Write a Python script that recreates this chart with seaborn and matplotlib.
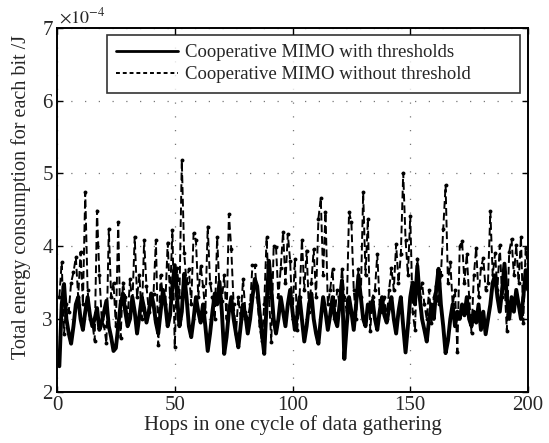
import numpy as np
import pandas as pd
import matplotlib
matplotlib.use("Agg")
import matplotlib.pyplot as plt
import seaborn as sns

# Datos (unidades de 1e-4 J)
hops = np.arange(1, 201)

with_thr = [
    2.35, 3.2, 3.48, 3.0, 2.8, 2.66, 2.9, 3.2, 3.3, 3.0,
    2.85, 3.1, 3.3, 3.05, 2.9, 3.0, 3.15, 2.85, 2.95, 3.1,
    3.25, 2.9, 2.75, 2.56, 2.6, 2.9, 3.2, 3.35, 3.1, 2.9,
    3.0, 3.3, 3.1, 2.8, 3.05, 3.3, 3.15, 2.95, 3.1, 3.35,
    3.2, 2.95, 2.8, 3.1, 3.4, 3.2, 2.9, 3.05, 3.45, 3.74,
    3.3, 2.9, 3.1, 3.62, 3.3, 2.9, 2.75, 3.0, 3.3, 3.1,
    2.95, 3.2, 2.9, 2.56, 2.8, 3.1, 3.35, 3.2, 3.51, 3.1,
    2.52, 2.75, 3.1, 3.3, 3.0, 2.8, 2.61, 2.9, 3.2, 3.05,
    2.8, 3.0, 3.3, 3.55, 3.45, 3.1, 2.8, 2.52, 3.2, 3.8,
    3.4, 3.0, 2.8, 3.0, 3.3, 3.1, 2.9, 3.2, 3.4, 3.1,
    2.85, 3.05, 3.3, 3.0, 2.69, 2.9, 3.2, 3.35, 3.0, 2.8,
    2.66, 3.0, 3.3, 3.1, 2.85, 3.05, 3.3, 3.0, 2.9, 3.2,
    3.53, 2.45, 2.9, 3.3, 3.1, 2.85, 3.2, 3.6, 3.3, 3.0,
    2.9, 3.2, 3.1, 3.25, 3.0, 2.85, 3.1, 3.3, 3.05, 2.95,
    3.15, 3.3, 3.0, 2.8, 3.1, 3.3, 2.9, 2.54, 2.9, 3.3,
    3.5, 3.2, 3.73, 3.3, 3.0, 2.85, 2.69, 3.0, 3.2, 3.0,
    3.4, 3.69, 3.2, 2.9, 2.53, 2.7, 3.0, 3.2, 2.9, 3.1,
    3.0, 3.2, 3.05, 3.3, 3.0, 2.9, 3.1, 2.95, 3.2, 2.85,
    3.1, 2.79, 3.0, 3.2, 3.5, 3.6, 3.3, 3.1, 3.4, 3.76,
    3.3, 3.0, 3.3, 3.1, 3.4, 3.2, 3.0, 3.3, 3.67, 3.4,
]

without_thr = [
    3.3, 3.78, 2.8, 3.2, 3.1, 3.5, 3.64, 3.85, 3.3, 3.92,
    3.2, 4.74, 3.4, 3.0, 2.95, 2.7, 4.49, 3.6, 3.0, 2.9,
    2.67, 4.24, 3.3, 3.5, 2.9, 4.33, 2.74, 3.5, 3.3, 3.0,
    3.55, 3.2, 4.13, 3.3, 3.6, 3.0, 4.08, 3.45, 3.1, 3.2,
    3.35, 4.08, 2.64, 3.6, 3.3, 3.2, 4.05, 3.3, 4.22, 2.61,
    3.7, 3.3, 5.18, 3.9, 3.5, 3.69, 3.2, 4.18, 4.08, 3.3,
    3.73, 3.45, 3.1, 4.27, 3.5, 3.3, 3.0, 4.12, 3.4, 3.25,
    3.6, 3.0, 4.44, 3.96, 3.2, 2.8, 3.3, 3.0, 3.55, 3.1,
    3.0, 3.2, 3.74, 3.74, 3.3, 2.9, 2.7, 3.2, 4.12, 3.3,
    2.69, 4.0, 3.99, 3.3, 3.7, 4.2, 3.5, 4.17, 3.8, 3.0,
    3.83, 2.85, 3.3, 4.09, 3.4, 3.94, 3.1, 3.5, 3.96, 3.3,
    4.38, 4.66, 3.6, 4.47, 3.2, 3.4, 3.68, 3.08, 3.4, 3.2,
    3.69, 3.3, 3.1, 4.47, 4.33, 3.4, 3.0, 3.69, 3.3, 4.74,
    3.6, 4.38, 2.84, 3.3, 3.4, 3.89, 3.2, 3.1, 3.3, 3.0,
    3.4, 3.7, 3.4, 4.03, 3.5, 3.89, 5.01, 4.09, 3.6, 4.42,
    3.1, 2.85, 3.83, 3.3, 3.5, 3.2, 3.0, 3.4, 2.95, 3.3,
    3.45, 3.2, 3.6, 4.24, 4.84, 3.5, 3.78, 3.2, 3.4, 2.55,
    4.0, 4.07, 3.5, 3.89, 3.3, 2.81, 3.6, 3.98, 3.3, 3.7,
    3.84, 3.4, 3.5, 4.48, 3.6, 3.9, 3.4, 4.01, 3.3, 3.5,
    2.84, 3.92, 4.10, 3.6, 4.01, 3.5, 4.13, 2.95, 3.98, 3.7,
]

labels = ['Cooperative MIMO with thresholds', 'Cooperative MIMO without threshold']

df = pd.DataFrame({'hop': hops, 'con': with_thr, 'sin': without_thr})

sns.set_theme(style="ticks")
plt.rcParams['font.family'] = ['Liberation Serif', 'DejaVu Serif']
plt.rcParams['mathtext.fontset'] = 'stix'

fig = plt.figure(figsize=(5.49, 4.43), dpi=100)
ax = fig.add_axes([0.1038, 0.1158, 0.858, 0.821])

sns.lineplot(data=df, x='hop', y='sin', ax=ax, color='black', lw=1.4,
             linestyle=(0, (4, 2)), marker='o', markersize=2.8,
             markeredgewidth=0, label=labels[1])
sns.lineplot(data=df, x='hop', y='con', ax=ax, color='black', lw=2.8,
             label=labels[0])

ax.set_xlim(0, 200)
ax.set_ylim(2, 7)
ax.set_xticks([0, 50, 100, 150, 200])
ax.set_yticks([2, 3, 4, 5, 6, 7])
ax.grid(True, color='#777777', linestyle=(0, (1, 10)), linewidth=0.9)
ax.tick_params(direction='in', labelsize=15, length=4, width=1, color='black',
               top=True, right=True, pad=3)
for s in ax.spines.values():
    s.set_linewidth(1.4)
    s.set_color('black')

ax.set_xlabel('Hops in one cycle of data gathering', fontsize=15, labelpad=0)
ax.set_ylabel('Total energy consumption for each bit /J', fontsize=14.5)
ax.yaxis.set_label_coords(-0.055, 0.535)
ax.text(0.005, 1.003, r'$\times10^{-4}$', transform=ax.transAxes, fontsize=13,
        ha='left', va='bottom')

h, l = ax.get_legend_handles_labels()
leg = ax.legend(h[::-1], l[::-1], loc='upper left', fontsize=13.5,
                frameon=True, fancybox=False, edgecolor='black',
                handlelength=3.3, handletextpad=0.35, borderpad=0.5,
                borderaxespad=0, labelspacing=0.25, mode='expand',
                bbox_to_anchor=(0.106, 0.5, 0.877, 0.481))
leg.get_frame().set_linewidth(1.2)
leg.get_lines()[0].set_linewidth(2.0)
leg.get_lines()[1].set_marker('')
leg.get_lines()[1].set_linestyle((0, (2, 1.5)))

fig.savefig('out.png', dpi=100)
